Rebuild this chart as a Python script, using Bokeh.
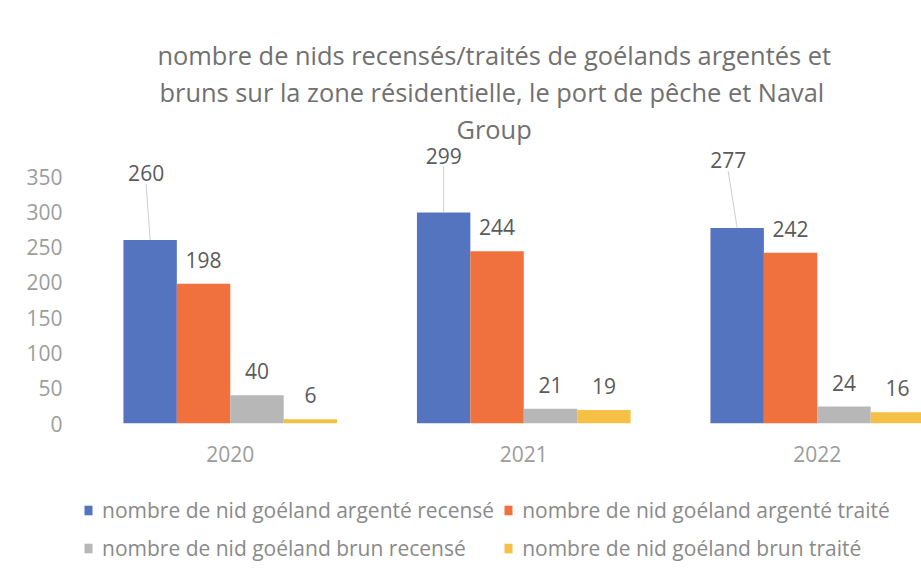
from bokeh.plotting import figure
from bokeh.layouts import column
from bokeh.models import Range1d, FixedTicker, Legend, LegendItem, Title, ColumnDataSource
from bokeh.core.properties import value
from bokeh.embed import file_html
from bokeh.resources import INLINE

# ---- data ----
years = ["2020", "2021", "2022"]
series_names = [
    "nombre de nid goéland argenté recensé",
    "nombre de nid goéland argenté traité",
    "nombre de nid goéland brun recensé",
    "nombre de nid goéland brun traité",
]
argente_recense = [260, 299, 277]
argente_traite = [198, 244, 242]
brun_recense = [40, 21, 24]
brun_traite = [6, 19, 16]
y_ticks = [0, 50, 100, 150, 200, 250, 300, 350]
title_lines = [
    "nombre de nids recensés/traités de goélands argentés et",
    "bruns sur la zone résidentielle, le port de pêche et Naval",
    "Group",
]

# ---- style ----
FONT = "Open Sans"
colors = ["#5574BF", "#F0703E", "#B7B7B7", "#F6BF45"]
bar_w = 0.182
offsets = [-1.5 * bar_w, -0.5 * bar_w, 0.5 * bar_w, 1.5 * bar_w]
Y_MAX = 394
FRAME_H = 278
X0, X1 = -0.5, 2.355
FRAME_W = 838
ppu_y = FRAME_H / Y_MAX
ppu_x = FRAME_W / (X1 - X0)
# label placement for the first series (moved labels with leader lines), in pixels
lead_dx = [-4, 0, -9]
lead_dy = [67, 57, 68]
# left offsets of the title lines (left aligned so the block is centred at x≈493)
title_offsets = [74, 76, 373]

p = figure(width=921, height=480, x_range=Range1d(X0, X1), y_range=Range1d(0, Y_MAX),
           output_backend="svg", toolbar_location=None,
           min_border_left=83, min_border_right=0, min_border_top=145, min_border_bottom=57,
           outline_line_color=None, background_fill_color="white", border_fill_color="white")
p.xgrid.visible = False
p.ygrid.visible = False

all_series = [argente_recense, argente_traite, brun_recense, brun_traite]
for i, (vals, col, off) in enumerate(zip(all_series, colors, offsets)):
    xs = [k + off for k in range(len(years))]
    src = ColumnDataSource(dict(x=xs, top=vals, label=[str(v) for v in vals]))
    p.vbar(x="x", top="top", width=bar_w, source=src, fill_color=col, line_color=None)
    if i == 0:
        src.data["xo"] = lead_dx
        src.data["yo"] = [-d for d in lead_dy]
        p.text(x="x", y="top", text="label", source=src, x_offset="xo", y_offset="yo",
               text_align="center", text_baseline="middle", text_font=value(FONT),
               text_font_size="21px", text_color="#5a5a5a")
        x0s = [x + dx / ppu_x for x, dx in zip(xs, lead_dx)]
        y0s = [v + (d - 11) / ppu_y for v, d in zip(vals, lead_dy)]
        p.segment(x0=x0s, y0=y0s, x1=xs, y1=list(vals), line_color="#cfcfcf", line_width=1)
    else:
        p.text(x="x", y="top", text="label", source=src, y_offset=-24,
               text_align="center", text_baseline="middle", text_font=value(FONT),
               text_font_size="21px", text_color="#5a5a5a")

# axes
p.xaxis.ticker = FixedTicker(ticks=list(range(len(years))))
p.xaxis.major_label_overrides = {k: y for k, y in enumerate(years)}
p.yaxis.ticker = FixedTicker(ticks=y_ticks)
for ax in (p.xaxis, p.yaxis):
    ax.axis_line_color = None
    ax.major_tick_line_color = None
    ax.minor_tick_line_color = None
    ax.major_label_text_font = FONT
    ax.major_label_text_font_size = "21px"
    ax.major_label_text_color = "#9c9c9c"
p.xaxis.major_label_standoff = 16
p.yaxis.major_label_standoff = 15

# title (three lines, closest to the plot first)
for line, so, off in zip(reversed(title_lines), [0, 1, 1], reversed(title_offsets)):
    p.add_layout(Title(text=line, align="left", offset=off, standoff=so,
                       text_font=FONT, text_font_size="25.4px", text_font_style="normal",
                       text_color="#707070"), "above")

# legend (in its own strip under the chart; zero-height proxy bars carry the colours)
lg = figure(width=921, height=88, x_range=Range1d(0, 1), y_range=Range1d(0, 1),
            output_backend="svg", toolbar_location=None,
            x_axis_location=None, y_axis_location=None,
            min_border_left=0, min_border_right=0, min_border_top=0, min_border_bottom=0,
            outline_line_color=None, background_fill_color="white", border_fill_color="white")
lg.xgrid.visible = False
lg.ygrid.visible = False
proxies = [lg.vbar(x=[0], top=[0], bottom=[0], width=0, fill_color=c, line_color=None)
           for c in colors]
order = [0, 2, 1, 3]  # column-wise filling -> row-wise reading order
items = [LegendItem(label=series_names[k], renderers=[proxies[k]]) for k in order]
legend = Legend(items=items, ncols=2, location=(0, 6), padding=0, margin=0, spacing=9,
                glyph_width=10, glyph_height=12, label_height=29, label_standoff=9,
                label_text_font=FONT, label_text_font_size="21px", label_text_color="#8a8a8a",
                border_line_color=None, background_fill_alpha=0)
lg.add_layout(legend)

open("out.html", "w").write(file_html(column(p, lg, spacing=0), INLINE))
